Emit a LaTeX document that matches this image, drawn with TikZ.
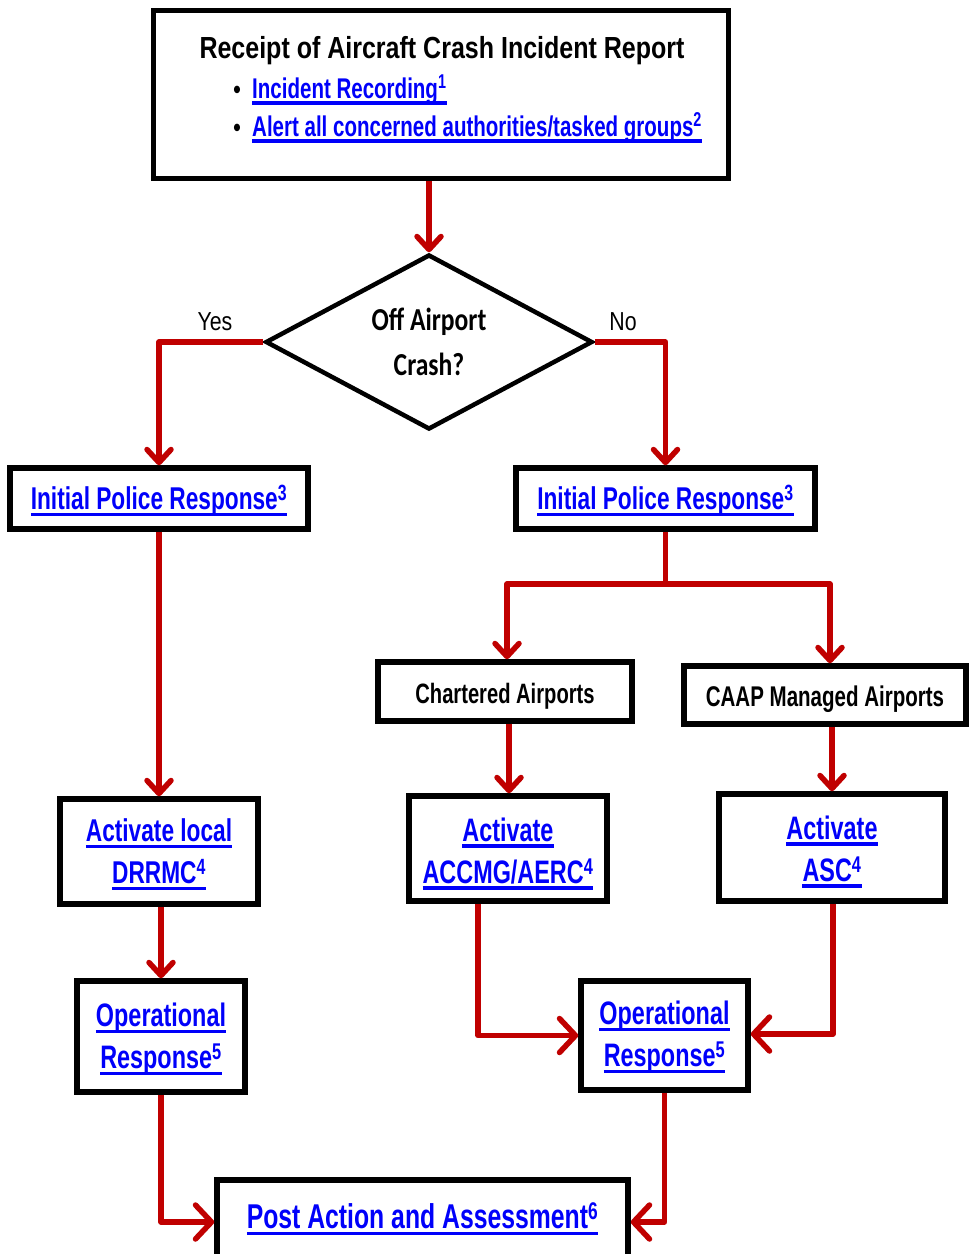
\documentclass[tikz,border=0pt]{standalone}
\usepackage{fontspec}
\usetikzlibrary{arrows.meta,shapes.geometric}
\setmainfont[FakeStretch=0.82]{Liberation Sans}
\newfontfamily\nfont[FakeStretch=0.72]{Liberation Sans}
\newfontfamily\diafont[FakeStretch=0.8]{Carlito}
\definecolor{linkblue}{RGB}{0,0,250}
\definecolor{flowred}{RGB}{192,0,0}
% hyperlink-style label: blue text with a heavy underline
\newcommand\lnk[1]{\textcolor{linkblue}{\setbox0\hbox{#1}\rlap{\rule[-6.5pt]{\wd0}{3.4pt}}\box0}}
\newcommand\fn[1]{\textsuperscript{#1}}
\newcommand\fsz[2]{\fontsize{#1}{#2}\selectfont\bfseries}
\newcommand\nsz[2]{\nfont\fontsize{#1}{#2}\selectfont\bfseries}
\begin{document}
\begin{tikzpicture}[x=1pt,y=-1pt,
  box/.style={draw=black, line width=5.5pt, fill=white, inner sep=0pt},
  txt/.style={inner sep=0pt, align=center},
  conn/.style={draw=flowred, line width=5.5pt, line join=round,
    -{Straight Barb[length=13pt,width=24pt,round]}},
  connwide/.style={draw=flowred, line width=5.5pt, line join=round,
    -{Straight Barb[length=16pt,width=34pt,round]}},
  branch/.style={draw=flowred, line width=5.5pt, line join=round},
  lbl/.style={font=\fontsize{26}{30}\selectfont}]
\clip (0,0) rectangle (971,1254);
\fill[white] (0,0) rectangle (971,1254);

% report box with title and bullet list
\node[box, minimum width=575, minimum height=168] (top) at (441,94.5) {};
\node[anchor=base, font=\fsz{30.5}{36}] (title) at (442,58) {Receipt of Aircraft Crash Incident Report};
\node[anchor=base, font=\fsz{26}{30}] (d1) at (237,98) {\textbullet};
\node[anchor=base west, inner sep=0pt, font=\nsz{28.5}{32}] (b1) at (252,98) {\lnk{Incident Recording\fn{1}}};
\node[anchor=base, font=\fsz{26}{30}] (d2) at (237,136) {\textbullet};
\node[anchor=base west, inner sep=0pt, font=\nsz{28.5}{32}] (b2) at (252,136) {\lnk{Alert all concerned authorities/tasked groups\fn{2}}};

% decision
\node[draw=black, line width=4.5pt, diamond, shape aspect=1.87, inner sep=0pt,
      minimum width=327, minimum height=175, fill=white, align=center,
      font=\diafont\bfseries\fontsize{32}{45}\selectfont] (dia) at (429,342) {Off Airport\\Crash?};
\node[lbl] (yes) at (215,322) {Yes};
\node[lbl] (no) at (623,322) {No};

% police response
\node[box, minimum width=298, minimum height=61] (ipL) at (159,498.5) {};
\node[txt, font=\nsz{31.5}{36}] (ipLT) at (159,500.5) {\lnk{Initial Police Response\fn{3}}};
\node[box, minimum width=299, minimum height=61] (ipR) at (665.5,498.5) {};
\node[txt, font=\nsz{31.5}{36}] (ipRT) at (665.5,500.5) {\lnk{Initial Police Response\fn{3}}};

% airport categories
\node[box, minimum width=254, minimum height=59] (chart) at (505,691.5) {};
\node[txt, font=\nsz{28}{32}] (chartT) at (505,696.5) {Chartered Airports};
\node[box, minimum width=282, minimum height=58] (caap) at (825,695) {};
\node[txt, font=\nsz{28.5}{32}] (caapT) at (825,699) {CAAP Managed Airports};

% activation
\node[box, minimum width=198, minimum height=105] (drrmc) at (159,851.5) {};
\node[txt, font=\nsz{31.5}{42}] (drrmcT) at (159,854.5) {\lnk{Activate local}\\\lnk{DRRMC\fn{4}}};
\node[box, minimum width=198, minimum height=105] (accmg) at (508,848.5) {};
\node[txt, font=\nsz{32.5}{42}] (accmgT) at (508,853.5) {\lnk{Activate}\\\lnk{ACCMG/AERC\fn{4}}};
\node[box, minimum width=226, minimum height=107] (asc) at (832,847.5) {};
\node[txt, font=\nsz{32.5}{42}] (ascT) at (832,851.5) {\lnk{Activate}\\\lnk{ASC\fn{4}}};

% operational response
\node[box, minimum width=168, minimum height=111] (opL) at (161,1036.5) {};
\node[txt, font=\nsz{32.5}{42}] (opLT) at (161,1039.5) {\lnk{Operational}\\\lnk{Response\fn{5}}};
\node[box, minimum width=167, minimum height=109] (opR) at (664.5,1035.5) {};
\node[txt, font=\nsz{32.5}{42}] (opRT) at (664.5,1037.5) {\lnk{Operational}\\\lnk{Response\fn{5}}};

% post action
\node[box, minimum width=411, minimum height=80] (post) at (422.5,1220) {};
\node[txt, font=\nsz{34.4}{38}] (postT) at (422.5,1219) {\lnk{Post Action and Assessment\fn{6}}};

% connectors
\draw[conn] (dia.north |- top.south) -- (dia.north);
\draw[conn] (dia.west) -| (ipL.north);
\draw[conn] (dia.east) -| (ipR.north);
\draw[conn] (ipL.south) -- (drrmc.north);
\coordinate (split) at (ipR.south |- 0,584);
\draw[branch] (ipR.south) -- (split);
\draw[conn] (split) -| ([xshift=2]chart.north);
\draw[conn] (split) -| ([xshift=5]caap.north);
\draw[conn] (opL.north |- drrmc.south) -- (opL.north);
\draw[conn] ([xshift=1]accmg.north |- chart.south) -- ([xshift=1]accmg.north);
\draw[conn] (asc.north |- caap.south) -- (asc.north);
\draw[connwide] ([xshift=-30]accmg.south) |- (opR.west);
\draw[connwide] ([xshift=1]asc.south) |- ([yshift=1.5]opR.east);
\draw[connwide] (opL.south) |- ([yshift=-2]post.west);
\draw[connwide] (opR.south) |- ([yshift=-2]post.east);
\end{tikzpicture}
\end{document}
